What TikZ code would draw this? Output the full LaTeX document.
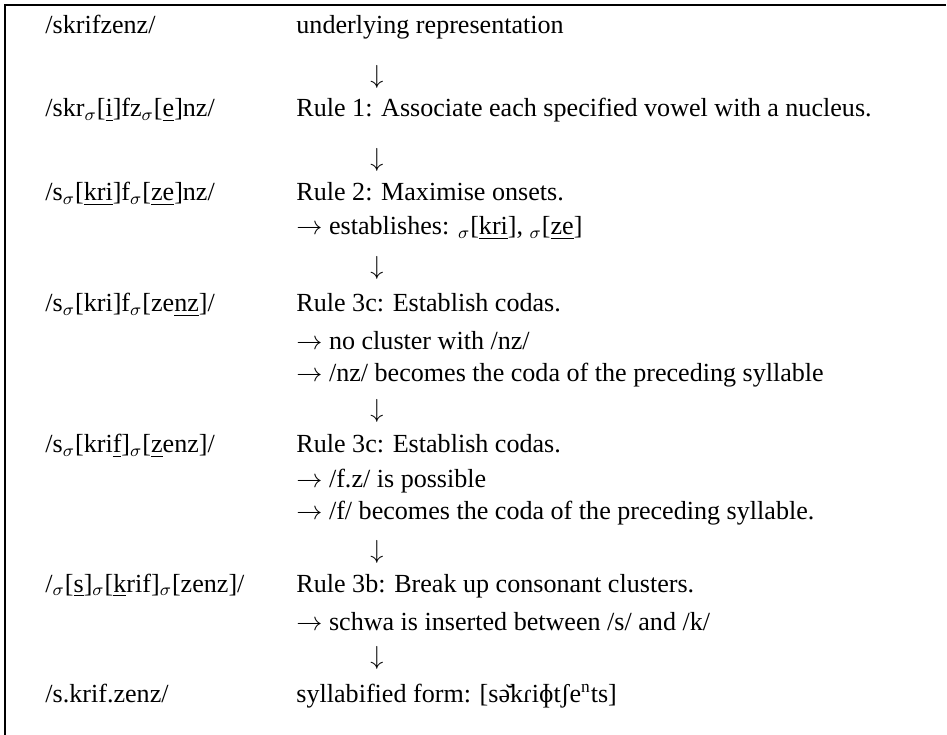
\documentclass[tikz,border=0pt]{standalone}
\usepackage{fontspec}
\setmainfont{Liberation Serif}
\usepackage{tikz}

\begin{document}
\begin{tikzpicture}[x=0.46pt,y=-0.46pt,
    every node/.style={inner sep=0pt,font=\fontsize{12}{14}\selectfont},
    form/.style={anchor=base west},
    rule/.style={anchor=base west},
    down/.style={anchor=center}]
\useasboundingbox (0,0) rectangle (947,735);
% frame, open to the right and bottom
\draw[line width=0.5pt] (5,735) -- (5,5) -- (946,5);

% left column: the forms
\node[form] (form1) at (45,34) {/skrifzenz/};
\node[form] (form2) at (45,117) {/skr$_\sigma$[\underline{i}]fz$_\sigma$[\underline{e}]nz/};
\node[form] (form3) at (45,201) {/s$_\sigma$[\underline{kri}]f$_\sigma$[\underline{ze}]nz/};
\node[form] (form4) at (45,312) {/s$_\sigma$[kri]f$_\sigma$[ze\underline{nz}]/};
\node[form] (form5) at (45,453) {/s$_\sigma$[kri\underline{f}]$_\sigma$[\underline{z}enz]/};
\node[form] (form6) at (45,592) {/$_\sigma$[\underline{s}]$_\sigma$[\underline{k}rif]$_\sigma$[zenz]/};
\node[form] (form7) at (45,702) {/s.krif.zenz/};

% right column: the rules and what they do
\node[rule] (rule0) at (296,34) {underlying representation};
\node[down] (d1) at (377,77) {$\downarrow$};
\node[rule] (rule1) at (296,117) {Rule 1: Associate each specified vowel with a nucleus.};
\node[down] (d2) at (377,160) {$\downarrow$};
\node[rule] (rule2) at (296,201) {Rule 2: Maximise onsets.};
\node[rule] (note2) at (296,235) {$\rightarrow$ establishes: $_\sigma$[\underline{kri}], $_\sigma$[\underline{ze}]};
\node[down] (d3) at (377,268) {$\downarrow$};
\node[rule] (rule3) at (296,312) {Rule 3c: Establish codas.};
\node[rule] (note3a) at (296,350) {$\rightarrow$ no cluster with /nz/};
\node[rule] (note3b) at (296,382) {$\rightarrow$ /nz/ becomes the coda of the preceding syllable};
\node[down] (d4) at (377,411) {$\downarrow$};
\node[rule] (rule4) at (296,453) {Rule 3c: Establish codas.};
\node[rule] (note4a) at (296,488) {$\rightarrow$ /f.z/ is possible};
\node[rule] (note4b) at (296,519) {$\rightarrow$ /f/ becomes the coda of the preceding syllable.};
\node[down] (d5) at (377,552) {$\downarrow$};
\node[rule] (rule5) at (296,592) {Rule 3b: Break up consonant clusters.};
\node[rule] (note5) at (296,630) {$\rightarrow$ schwa is inserted between /s/ and /k/};
\node[down] (d6) at (377,658) {$\downarrow$};
\node[rule] (rule6) at (296,702) {syllabified form: [sə̆kɾiɸtʃe\textsuperscript{n}ts]};
\end{tikzpicture}
\end{document}
